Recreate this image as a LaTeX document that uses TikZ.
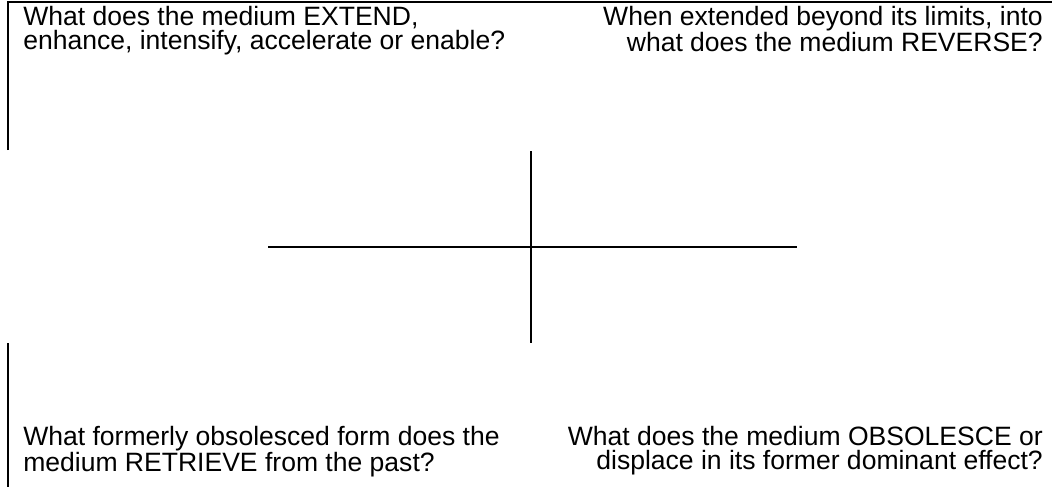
\documentclass[tikz,border=0pt]{standalone}
\usepackage{fontspec}
\setmainfont{Liberation Sans}
\begin{document}
\begin{tikzpicture}[x=0.75pt,y=-0.75pt,
  rule/.style={line width=1.5pt,black},
  qtext/.style={inner sep=0pt,font=\fontsize{19.9}{18}\selectfont}]
\useasboundingbox (0,0) rectangle (1052,487);
% frame fragments
\coordinate (tl) at (8,1.5);
\coordinate (tr) at (1052,1.5);
\coordinate (lu) at (8,150);
\coordinate (ll) at (8,343);
\coordinate (lb) at (8,487);
\draw[rule] (lu) -- (tl) -- (tr);
\draw[rule] (ll) -- (lb);
% cross
\coordinate (vt) at (531,151);
\coordinate (vb) at (531,343);
\coordinate (hl) at (268,247);
\coordinate (hr) at (797,247);
\draw[rule] (vt) -- (vb);
\draw[rule] (hl) -- (hr);
% texts
\node[qtext,anchor=north west,align=left] (ext) at (23,6)
  {What does the medium EXTEND,\\enhance, intensify, accelerate or enable?};
\node[qtext,anchor=north east,align=right] (rev) at (1043,6)
  {When extended beyond its limits, into\\what does the medium REVERSE?};
\node[qtext,anchor=north west,align=left] (ret) at (23,426)
  {What formerly obsolesced form does the\\medium RETRIEVE from the past?};
\node[qtext,anchor=north east,align=right] (obs) at (1043,426)
  {What does the medium OBSOLESCE or\\displace in its former dominant effect?};
\end{tikzpicture}
\end{document}
